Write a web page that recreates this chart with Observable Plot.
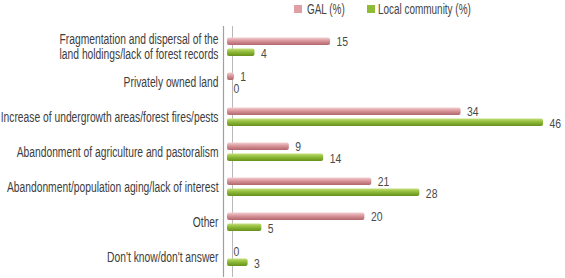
<!DOCTYPE html>
<html><head><meta charset="utf-8">
<script src="https://cdn.jsdelivr.net/npm/d3@7"></script>
<script src="https://cdn.jsdelivr.net/npm/@observablehq/plot@0.6"></script>
<style>
body{margin:0;background:#fff;font-family:"Liberation Sans",Arial,sans-serif;}
#legend{height:20px;position:relative;font-size:14px;color:#444;}
.sw{position:absolute;top:5px;width:8px;height:8px;}
.lt{position:absolute;top:1px;transform-origin:left center;white-space:nowrap;}
</style></head><body>
<div id="legend">
<span class="sw" style="left:294px;background:#dea0a4;"></span><span class="lt" id="l1" style="left:307px;">GAL (%)</span>
<span class="sw" style="left:367px;background:#8fbb38;"></span><span class="lt" id="l2" style="left:378px;">Local community (%)</span>
</div>
<div id="chart"></div>
<script>
const categories = [
  "Fragmentation and dispersal of the\nland holdings/lack of forest records",
  "Privately owned land",
  "Increase of undergrowth areas/forest fires/pests",
  "Abandonment of agriculture and pastoralism",
  "Abandonment/population aging/lack of interest",
  "Other",
  "Don't know/don't answer"
];
const galValues = [15, 1, 34, 9, 21, 20, 0];
const localValues = [4, 0, 46, 14, 28, 5, 3];

const gal = categories.map((c, i) => ({category: c, value: galValues[i]}));
const local = categories.map((c, i) => ({category: c, value: localValues[i]}));

const plot = Plot.plot({
  width: 565,
  height: 258,
  marginLeft: 227,
  marginRight: 22,
  marginTop: 6,
  marginBottom: 1,
  style: {fontFamily: "'Liberation Sans',Arial,sans-serif", fontSize: "14.5px", color: "#3d3d3d"},
  x: {domain: [0, 46], axis: null},
  y: {domain: categories, padding: 0, label: null},
  marks: [
    Plot.ruleX([0], {dx: -4, stroke: "#a0a0a0", strokeWidth: 1.2}),
    Plot.ruleX([0], {dx: 5, stroke: "#b8b8b8", strokeWidth: 1}),
    Plot.barX(gal, {x: "value", y: "category", fill: "url(#gPink)", insetTop: 8.5, insetBottom: 19, rx: 2}),
    Plot.barX(local, {x: "value", y: "category", fill: "url(#gGreen)", insetTop: 19.5, insetBottom: 8, rx: 2}),
    Plot.text(gal, {x: "value", y: "category", text: d => String(d.value), dx: 6, dy: -5, textAnchor: "start", fill: "#4a4a4a", fontSize: 13, className: "vlab"}),
    Plot.text(local, {x: "value", y: "category", text: d => String(d.value), dx: 6, dy: 7, textAnchor: "start", fill: "#4a4a4a", fontSize: 13, className: "vlab"}),
    Plot.axisY({tickSize: 0, tickPadding: 9, fontSize: 14.5, lineHeight: 1.02, fill: "#3d3d3d"})
  ]
});
const ns = "http://www.w3.org/2000/svg";
const defs = document.createElementNS(ns, "defs");
defs.innerHTML = `
<linearGradient id="gPink" x1="0" y1="0" x2="0" y2="1">
<stop offset="0" stop-color="#f3cfd1"/><stop offset="0.45" stop-color="#d9959a"/><stop offset="1" stop-color="#b0666c"/>
</linearGradient>
<linearGradient id="gGreen" x1="0" y1="0" x2="0" y2="1">
<stop offset="0" stop-color="#c4e07a"/><stop offset="0.45" stop-color="#8fbb38"/><stop offset="1" stop-color="#66901c"/>
</linearGradient>`;
plot.insertBefore(defs, plot.firstChild);
document.getElementById("chart").appendChild(plot);

// condense text horizontally to mimic the narrow font of the original
const axisTexts = plot.querySelectorAll('g[aria-label="y-axis tick label"] text');
let maxW = 0;
axisTexts.forEach(t => { maxW = Math.max(maxW, t.getBBox().width); });
const k = maxW > 0 ? Math.min(1, 218 / maxW) : 1;
axisTexts.forEach(t => {
  const tr = t.getAttribute("transform") || "";
  t.setAttribute("transform", tr + ` scale(${k},1)`);
});
plot.querySelectorAll('.vlab text').forEach(t => {
  const tr = t.getAttribute("transform") || "";
  t.setAttribute("transform", tr + ` scale(0.8,1)`);
});
document.getElementById("l1").style.transform = `scaleX(${k})`;
document.getElementById("l2").style.transform = `scaleX(${k})`;
</script>
</body></html>
